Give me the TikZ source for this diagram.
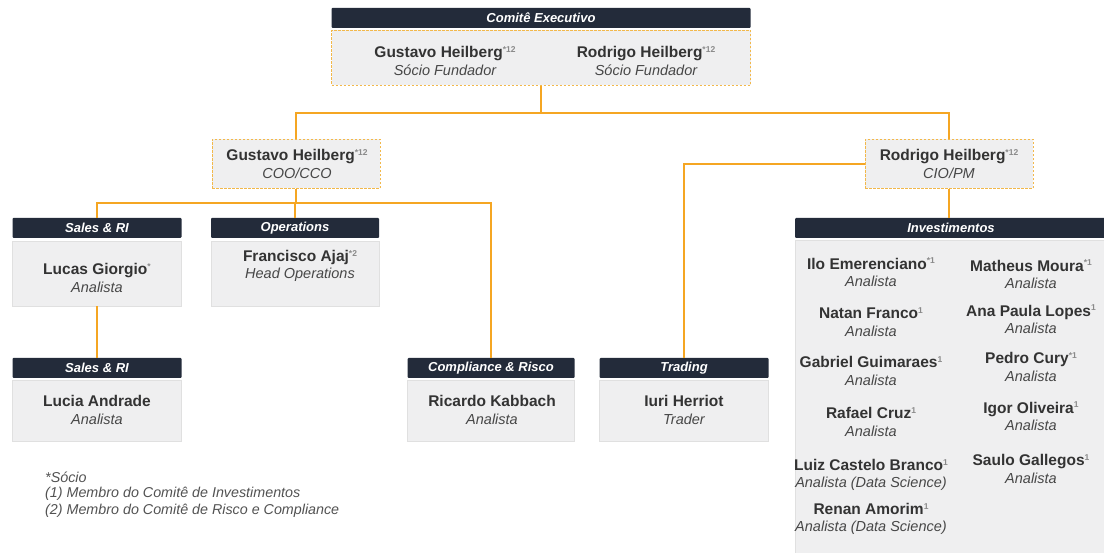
\documentclass[tikz,border=0pt]{standalone}
\usepackage{fontspec}
\setmainfont{Liberation Sans}
\definecolor{navy}{HTML}{232B3A}
\definecolor{org}{HTML}{F5A623}
\definecolor{orgd}{HTML}{F2B84B}
\definecolor{boxg}{HTML}{EFEFF0}
\definecolor{txt}{HTML}{333333}
\definecolor{supc}{HTML}{8A8A8A}
\newcommand\sups[1]{\raisebox{0.65ex}{\fontsize{8.5}{8.5}\selectfont\color{supc}#1}}
\newcommand\pn[3]{{\fontsize{15.5}{17}\selectfont\bfseries #1\sups{#2}}\\{\itshape\color{txt!90} #3}}
\tikzset{
  hdr/.style={fill=navy, text=white, font=\fontsize{13}{14}\selectfont\bfseries\itshape, minimum height=20pt, inner sep=0pt, rounded corners=1pt},
  bodyb/.style={fill=boxg, draw=black!12, line width=0.6pt, inner sep=0pt},
  dbox/.style={fill=boxg, draw=orgd, line width=0.9pt, dash pattern=on 2.5pt off 1.5pt, inner sep=0pt},
  person/.style={align=center, text=txt, font=\fontsize{14.5}{17.5}\selectfont, inner sep=0pt},
  conn/.style={draw=org, line width=2pt},
  note/.style={anchor=west, text=txt!85, font=\fontsize{14.3}{17}\selectfont\itshape, inner sep=0pt}
}
\begin{document}
\begin{tikzpicture}[x=1pt,y=-1pt]
\useasboundingbox (0,0) rectangle (1104,553);
\begin{scope}
\clip (0,0) rectangle (1104,553);
% Comite executivo
\node[hdr, minimum width=419pt] (ceh) at (541,18) {Comitê Executivo};
\node[dbox, minimum width=419pt, minimum height=55pt] (ceb) at (541,58) {};
\node[person] (gh1) at (445,61) {\pn{Gustavo Heilberg}{*12}{Sócio Fundador}};
\node[person] (rh1) at (646,61) {\pn{Rodrigo Heilberg}{*12}{Sócio Fundador}};
% second level
\node[dbox, minimum width=168pt, minimum height=49pt] (coo) at (296,164) {};
\node[person] at (297,164) {\pn{Gustavo Heilberg}{*12}{COO/CCO}};
\node[dbox, minimum width=168pt, minimum height=49pt] (cio) at (949,164) {};
\node[person] at (949,164) {\pn{Rodrigo Heilberg}{*12}{CIO/PM}};
% Sales 1
\node[hdr, minimum width=169pt] (s1h) at (97,228) {Sales \& RI};
\node[bodyb, minimum width=169pt, minimum height=65pt] (s1b) at (97,273.5) {};
\node[person] at (97,278) {\pn{Lucas Giorgio}{*}{Analista}};
% Operations
\node[hdr, minimum width=168pt] (oph) at (295,228) {Operations};
\node[bodyb, minimum width=168pt, minimum height=65pt] (opb) at (295,273.5) {};
\node[person] at (300,266) {\pn{Francisco Ajaj}{*2}{Head Operations}};
% Sales 2
\node[hdr, minimum width=169pt] (s2h) at (97,368) {Sales \& RI};
\node[bodyb, minimum width=169pt, minimum height=61pt] (s2b) at (97,410.5) {};
\node[person] at (97,410) {\pn{Lucia Andrade}{}{Analista}};
% Compliance
\node[hdr, minimum width=167pt] (cph) at (491,368) {Compliance \& Risco};
\node[bodyb, minimum width=167pt, minimum height=61pt] (cpb) at (491,410.5) {};
\node[person] at (492,410) {\pn{Ricardo Kabbach}{}{Analista}};
% Trading
\node[hdr, minimum width=169pt] (trh) at (684,368) {Trading};
\node[bodyb, minimum width=169pt, minimum height=61pt] (trb) at (684,410.5) {};
\node[person] at (684,410) {\pn{Iuri Herriot}{}{Trader}};
% Investimentos
\node[hdr, minimum width=312pt] (ivh) at (951,228) {Investimentos};
\node[bodyb, minimum width=312pt, minimum height=320pt, anchor=north] (ivb) at (951,240) {};
\node[person] (i1) at (871,272.5) {\pn{Ilo Emerenciano}{*1}{Analista}};
\node[person] (i2) at (871,322) {\pn{Natan Franco}{1}{Analista}};
\node[person] (i3) at (871,371) {\pn{Gabriel Guimaraes}{1}{Analista}};
\node[person] (i4) at (871,422) {\pn{Rafael Cruz}{1}{Analista}};
\node[person] (i5) at (871,475) {\pn{Luiz Castelo Branco}{1}{Analista (Data Science)}};
\node[person] (i6) at (871,519) {\pn{Renan Amorim}{1}{Analista (Data Science)}};
\node[person] (j1) at (1031,274.5) {\pn{Matheus Moura}{*1}{Analista}};
\node[person] (j2) at (1031,319.5) {\pn{Ana Paula Lopes}{1}{Analista}};
\node[person] (j3) at (1031,367) {\pn{Pedro Cury}{*1}{Analista}};
\node[person] (j4) at (1031,416.5) {\pn{Igor Oliveira}{1}{Analista}};
\node[person] (j5) at (1031,469) {\pn{Saulo Gallegos}{1}{Analista}};
\end{scope}
% connectors
\coordinate (ja) at (541,113);
\coordinate (jb) at (296,203);
\draw[conn] (ceb.south) -- (ja);
\draw[conn] (coo.north) |- (ja) -| (cio.north);
\draw[conn] (coo.south) -- (jb);
\draw[conn] (s1h.north) |- (jb) -| (cph.north);
\draw[conn] (jb) -| (oph.north);
\draw[conn] (s1b.south) -- (s2h.north);
\draw[conn] (cio.west) -| (trh.north);
\draw[conn] (cio.south) -- (cio.south |- ivh.north);
% notes
\node[note] (n1) at (45,477) {*Sócio};
\node[note] (n2) at (45,494) {(1) Membro do Comitê de Investimentos};
\node[note] (n3) at (45,511) {(2) Membro do Comitê de Risco e Compliance};
\end{tikzpicture}
\end{document}
